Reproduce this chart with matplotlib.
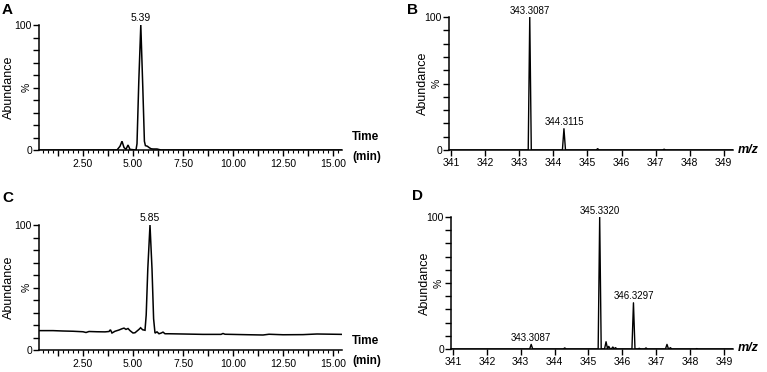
import matplotlib
matplotlib.use("Agg")
import matplotlib.pyplot as plt
import numpy as np

plt.rcParams['font.family'] = ['Liberation Sans', 'DejaVu Sans']

# ---------------- data ----------------
# Panel A chromatogram (time in min, abundance %)
A_time = [0.3, 4.20, 4.35, 4.45, 4.55, 4.65, 4.75, 4.85, 5.15, 5.20, 5.29, 5.39,
          5.49, 5.57, 5.62, 5.72, 5.80, 5.90, 6.00, 6.20, 6.40, 15.45]
A_abund = [0, 0, 3, 7, 2, 0.5, 4, 0.5, 0, 5, 55, 100,
           50, 7, 3.5, 3, 2, 1, 0.8, 0.8, 0, 0]
A_peak_label = (5.39, 100, "5.39")

# Panel C chromatogram
C_time = [0.3, 1.0, 1.5, 2.0, 2.5, 2.65, 2.8, 3.2, 3.6, 3.8, 3.87, 3.95, 4.1,
          4.3, 4.45, 4.55, 4.65, 4.75, 4.85, 5.0, 5.1, 5.3, 5.38, 5.48, 5.6,
          5.66, 5.74, 5.85, 5.95, 6.03, 6.1, 6.2, 6.3, 6.4, 6.5, 6.6, 6.8,
          7.5, 8.5, 9.4, 9.5, 9.6, 10.5, 11.5, 11.8, 12.5, 13.5, 14.2, 15.45]
C_abund = [15.5, 15.5, 15.2, 15.0, 14.6, 14.0, 14.8, 14.6, 14.5, 14.8, 16.2, 13.6, 15.0,
           16.0, 17.0, 17.5, 16.5, 17.2, 15.5, 13.6, 13.8, 16.5, 17.8, 16.2, 15.8,
           28, 65, 100, 65, 25, 13.5, 14.5, 13.0, 13.5, 14.3, 13.0, 13.0,
           12.8, 12.5, 12.5, 13.2, 12.6, 12.3, 12.0, 12.6, 12.2, 12.3, 12.8, 12.5]
C_peak_label = (5.85, 100, "5.85")

# Panel B spectrum (m/z centroid, abundance %)
B_mz = [343.3087, 344.3115, 345.30, 347.25]
B_int = [100, 16, 1.0, 0.6]
B_labels = [(343.3087, 100, "343.3087"), (344.3115, 16, "344.3115")]

# Panel D spectrum
D_mz = [343.3087, 344.30, 345.3320, 345.52, 345.60, 345.72, 345.80,
        346.3297, 346.50, 346.70, 347.32, 347.42, 348.20]
D_int = [3.5, 0.8, 100, 5.5, 2.0, 1.5, 1.0,
         35, 0.5, 0.8, 3.5, 1.0, 0.3]
D_labels = [(345.3320, 100, "345.3320"), (346.3297, 35, "346.3297"),
            (343.3087, 3.5, "343.3087")]

time_ticks = [2.5, 5.0, 7.5, 10.0, 12.5, 15.0]
mz_ticks = [341, 342, 343, 344, 345, 346, 347, 348, 349]

# ---------------- figure ----------------
W, H = 767, 372
fig = plt.figure(figsize=(W / 100, H / 100), dpi=100)


def px_axes(left, right, top, bottom):
    return fig.add_axes([left / W, (H - bottom) / H, (right - left) / W, (bottom - top) / H])


def style_y(ax):
    ax.set_ylim(0, 100)
    ax.set_yticks(np.arange(0, 101, 10))
    labels = [''] * 11
    labels[0] = '0'
    labels[10] = '100'
    labels[5] = '%'
    ax.set_yticklabels(labels)
    for t in ax.get_yticklabels():
        if t.get_text() == '%':
            t.set_rotation(90)
            t.set_va('center')
            t.set_fontsize(8.5)
    ax.tick_params(axis='y', length=4, width=1, labelsize=7.5, pad=1)


def style_common(ax):
    for s in ['top', 'right']:
        ax.spines[s].set_visible(False)
    for s in ['left', 'bottom']:
        ax.spines[s].set_linewidth(1.1)


def chrom(ax, t, a, lab):
    ax.plot(t, a, color='black', lw=1.1, solid_joinstyle='miter')
    ax.set_xlim(0.3, 15.45)
    style_common(ax)
    style_y(ax)
    major = np.arange(1.25, 15.01, 1.25)
    ax.set_xticks(major)
    ax.set_xticks(np.arange(0.5, 15.45, 0.25), minor=True)
    ax.set_xticklabels(['%.2f' % v if abs(v / 2.5 - round(v / 2.5)) < 1e-6 else ''
                        for v in major])
    ax.tick_params(axis='x', which='major', length=4.5, width=1, labelsize=7.5, pad=2)
    ax.tick_params(axis='x', which='minor', length=2.5, width=0.8)
    ax.text(lab[0], lab[1] + 1.5, lab[2], ha='center', va='bottom', fontsize=7.5,
            clip_on=False)
    ax.set_ylabel('Abundance', fontsize=9, labelpad=1)
    ax.yaxis.set_label_coords(-0.078, 0.5)


def spec(ax, mz, inten, labels, hw=0.045):
    xs, ys = [340.8], [0]
    for m, i in sorted(zip(mz, inten)):
        xs += [m - hw, m, m + hw]
        ys += [0, i, 0]
    xs.append(349.4)
    ys.append(0)
    ax.plot(xs, ys, color='black', lw=1.0)
    ax.set_xlim(340.94, 349.27)
    style_common(ax)
    style_y(ax)
    ax.set_xticks(mz_ticks)
    ax.tick_params(axis='x', length=4, width=1, labelsize=7.5, pad=2)
    for m, i, s in labels:
        ax.text(m, i + 1.0, s, ha='center', va='bottom', fontsize=7, clip_on=False)
    ax.set_ylabel('Abundance', fontsize=9, labelpad=1)
    ax.yaxis.set_label_coords(-0.072, 0.5)


axA = px_axes(39, 342, 25, 150)
chrom(axA, A_time, A_abund, A_peak_label)
axC = px_axes(39, 342, 225, 350)
chrom(axC, C_time, C_abund, C_peak_label)
axB = px_axes(449, 733, 17, 150)
spec(axB, B_mz, B_int, B_labels)
axD = px_axes(451, 733, 217, 349)
spec(axD, D_mz, D_int, D_labels)

# axis titles
fig.text(352 / W, 1 - 137 / H, 'Time', fontsize=8.5, fontweight='bold', va='center', ha='left')
fig.text(352 / W, 1 - 157 / H, '(min)', fontsize=8.5, fontweight='bold', va='center', ha='left')
fig.text(352 / W, 1 - 341 / H, 'Time', fontsize=8.5, fontweight='bold', va='center', ha='left')
fig.text(352 / W, 1 - 361 / H, '(min)', fontsize=8.5, fontweight='bold', va='center', ha='left')
fig.text(738 / W, 1 - 150 / H, 'm/z', fontsize=9, fontweight='bold', style='italic', va='center', ha='left')
fig.text(738 / W, 1 - 348 / H, 'm/z', fontsize=9, fontweight='bold', style='italic', va='center', ha='left')

# panel letters
for x, y, s in [(2, 10, 'A'), (407, 10, 'B'), (2, 198, 'C'), (412, 196, 'D')]:
    fig.text(x / W, 1 - y / H, s, fontsize=11, fontweight='bold', va='center', ha='left')

fig.savefig('out.png', dpi=100)
